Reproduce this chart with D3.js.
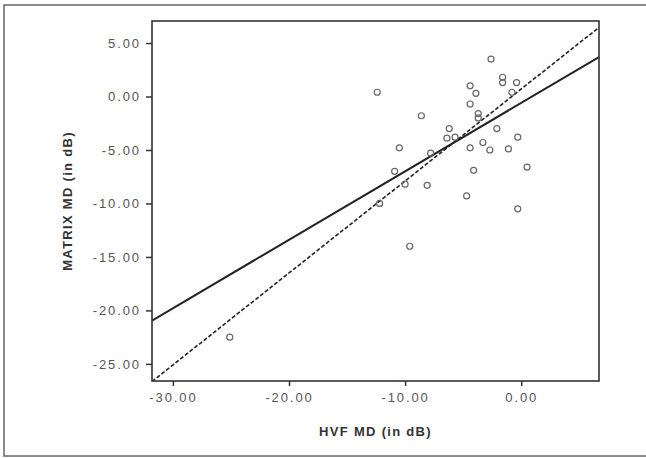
<!DOCTYPE html>
<html>
<head>
<meta charset="utf-8">
<script src="https://cdn.jsdelivr.net/npm/d3@7"></script>
<style>
  body { margin: 0; background: #fff; }
  svg { display: block; font-family: "Liberation Sans", Arial, sans-serif; }
  .axis text { fill: #555; font-size: 13px; letter-spacing: 1.9px; }
  .axis path { display: none; }
  .axis line { stroke: #333; stroke-width: 1.5; }
  .lbl { fill: #333; font-size: 13px; font-weight: bold; letter-spacing: 1.3px; }
</style>
</head>
<body>
<svg width="646" height="458"></svg>
<script>
// HVF MD vs MATRIX MD (dB)
const hvf = [-12.4, -2.6, -1.6, -1.6, -4.4, -3.9, -0.4, -0.8, -4.4, -3.7,
             -8.6, -6.2, -6.4, -5.7, -2.1, -3.3, -4.4, -2.7, -1.1, -0.3,
             0.5, -0.3, -4.1, -4.7, -10.5, -7.8, -10.9, -10.0, -8.1, -12.2,
             -9.6, -25.1, -3.7];
const matrix = [0.4, 3.5, 1.8, 1.3, 1.0, 0.3, 1.3, 0.4, -0.7, -1.6,
                -1.8, -3.0, -3.9, -3.8, -3.0, -4.3, -4.8, -5.0, -4.9, -3.8,
                -6.6, -10.5, -6.9, -9.3, -4.8, -5.3, -7.0, -8.2, -8.3, -10.0,
                -14.0, -22.5, -2.0];
const xTicks = [-30, -20, -10, 0];
const yTicks = [5, 0, -5, -10, -15, -20, -25];
// fitted lines: slope, intercept
const fitSolid = [0.64, -0.6];
const fitDashed = [0.86, 0.7];

const svg = d3.select('svg');
const margin = { top: 21, right: 47, bottom: 77, left: 152 };
const width = +svg.attr('width') - margin.left - margin.right;
const height = +svg.attr('height') - margin.top - margin.bottom;

// outer frame
svg.append('rect')
    .attr('x', 4).attr('y', 5)
    .attr('width', 660).attr('height', 451)
    .attr('fill', 'none')
    .attr('stroke', '#666')
    .attr('stroke-width', 1.5);

const g = svg.append('g').attr('transform', `translate(${margin.left},${margin.top})`);

const x = d3.scaleLinear().domain([-31.8, 6.7]).range([0, width]);
const y = d3.scaleLinear().domain([-26.6, 7.06]).range([height, 0]);

g.append('clipPath').attr('id', 'plotClip')
    .append('rect').attr('width', width).attr('height', height);

g.append('g')
    .attr('class', 'axis')
    .attr('transform', `translate(0,${height})`)
    .call(d3.axisBottom(x).tickValues(xTicks).tickSize(5).tickPadding(7)
        .tickFormat(d => d.toFixed(2)));

g.append('g')
    .attr('class', 'axis')
    .call(d3.axisLeft(y).tickValues(yTicks).tickSize(6).tickPadding(5)
        .tickFormat(d => d.toFixed(2)));

// regression lines
const plot = g.append('g').attr('clip-path', 'url(#plotClip)');
const line = d3.line().x(d => x(d[0])).y(d => y(d[1]));
const xs = x.domain();

plot.append('path')
    .datum(xs.map(v => [v, fitDashed[0] * v + fitDashed[1]]))
    .attr('fill', 'none')
    .attr('stroke', '#222')
    .attr('stroke-width', 1.6)
    .attr('stroke-dasharray', '4,2')
    .attr('d', line);

plot.append('path')
    .datum(xs.map(v => [v, fitSolid[0] * v + fitSolid[1]]))
    .attr('fill', 'none')
    .attr('stroke', '#222')
    .attr('stroke-width', 2)
    .attr('d', line);

// points
plot.selectAll('.pt')
    .data(hvf.map((v, i) => [v, matrix[i]]))
    .enter().append('circle')
    .attr('class', 'pt')
    .attr('cx', d => x(d[0]))
    .attr('cy', d => y(d[1]))
    .attr('r', 3)
    .attr('fill', 'none')
    .attr('stroke', '#666')
    .attr('stroke-width', 1.2);

// plot box
g.append('rect')
    .attr('width', width).attr('height', height)
    .attr('fill', 'none')
    .attr('stroke', '#333')
    .attr('stroke-width', 1.6);

// axis titles
g.append('text')
    .attr('class', 'lbl')
    .attr('x', width / 2)
    .attr('y', height + 55)
    .attr('text-anchor', 'middle')
    .text('HVF MD (in dB)');

g.append('text')
    .attr('class', 'lbl')
    .attr('transform', `translate(${67 - margin.left + 5},${height / 2}) rotate(-90)`)
    .attr('text-anchor', 'middle')
    .text('MATRIX MD (in dB)');
</script>
</body>
</html>
